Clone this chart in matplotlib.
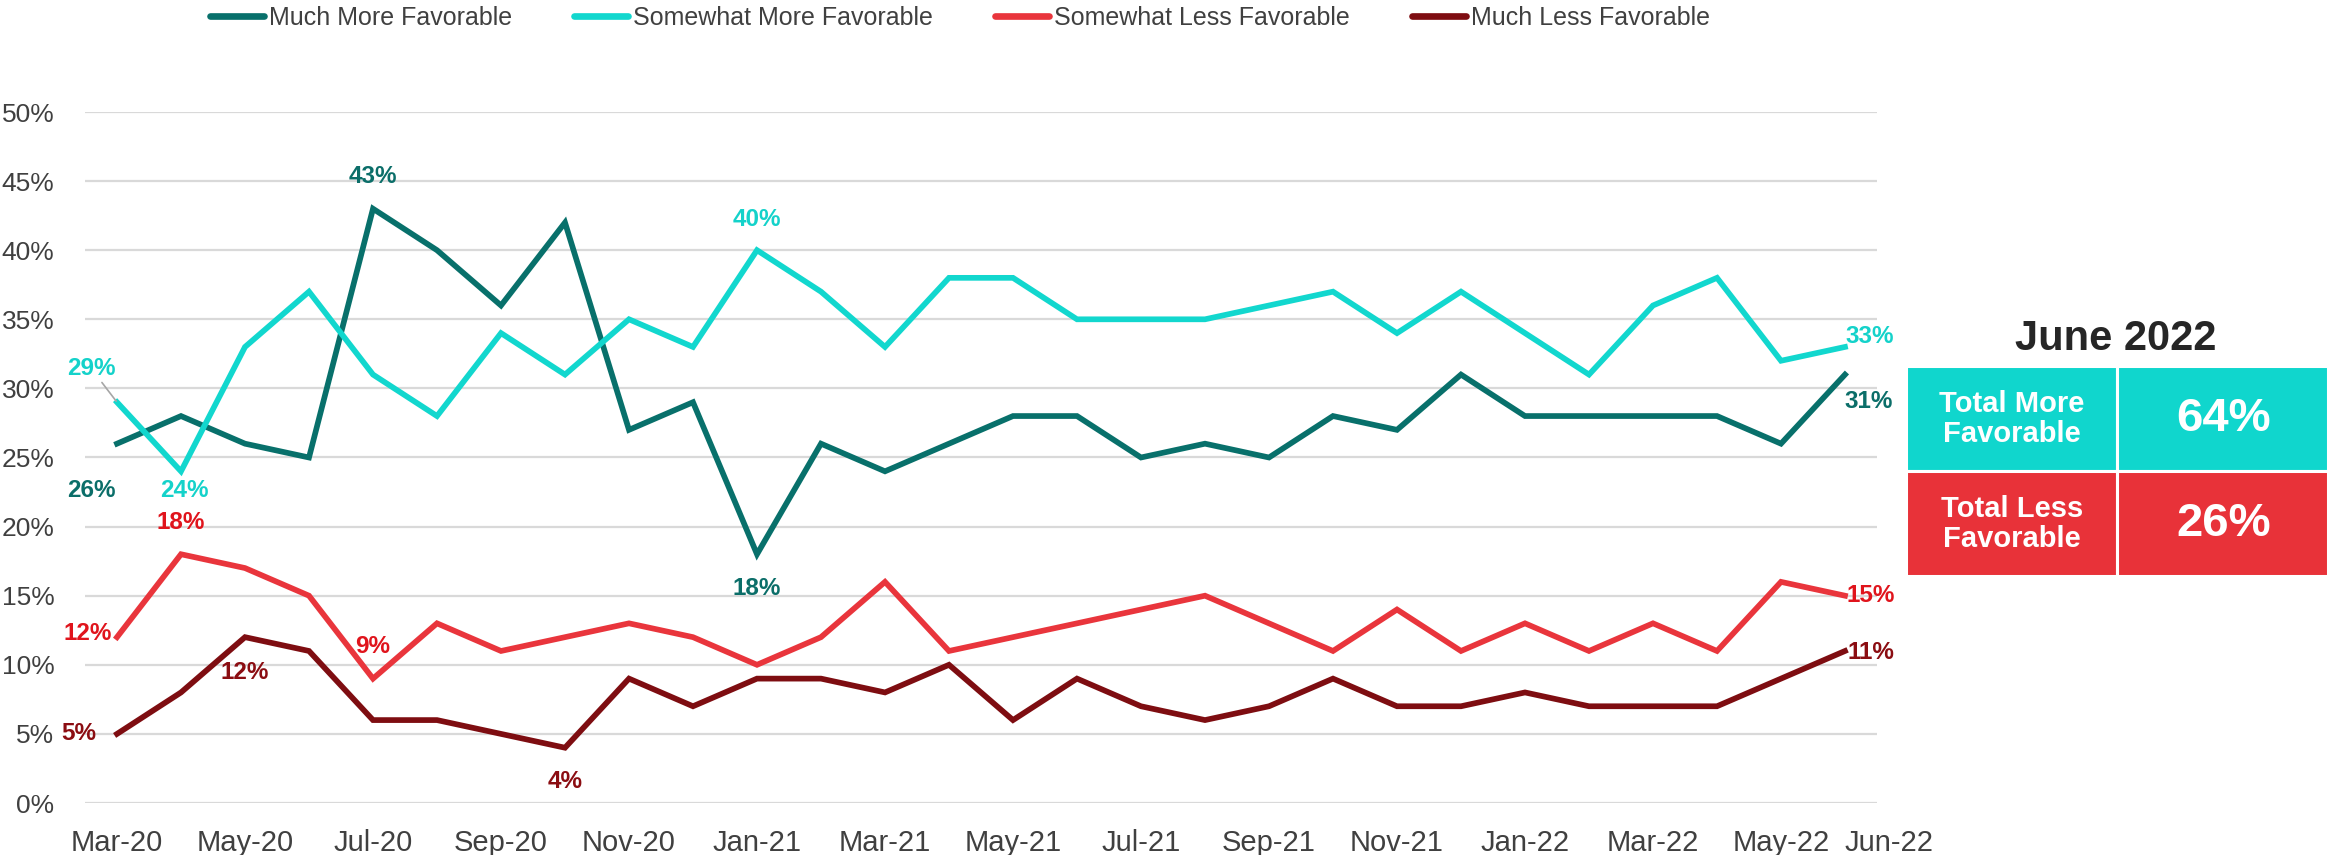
import numpy as np
import matplotlib
matplotlib.use('Agg')
import matplotlib.pyplot as plt
from matplotlib.patches import Rectangle

# datos (porcentajes, mensual de Mar-20 a Jun-22)
meses = ['Mar-20', 'Apr-20', 'May-20', 'Jun-20', 'Jul-20', 'Aug-20', 'Sep-20',
         'Oct-20', 'Nov-20', 'Dec-20', 'Jan-21', 'Feb-21', 'Mar-21', 'Apr-21',
         'May-21', 'Jun-21', 'Jul-21', 'Aug-21', 'Sep-21', 'Oct-21', 'Nov-21',
         'Dec-21', 'Jan-22', 'Feb-22', 'Mar-22', 'Apr-22', 'May-22', 'Jun-22']

much_more = [26, 28, 26, 25, 43, 40, 36, 42, 27, 29, 18, 26, 24, 26, 28, 28,
             25, 26, 25, 28, 27, 31, 28, 28, 28, 28, 26, 31]
somewhat_more = [29, 24, 33, 37, 31, 28, 34, 31, 35, 33, 40, 37, 33, 38, 38, 35,
                 35, 35, 36, 37, 34, 37, 34, 31, 36, 38, 32, 33]
somewhat_less = [12, 18, 17, 15, 9, 13, 11, 12, 13, 12, 10, 12, 16, 11, 12, 13,
                 14, 15, 13, 11, 14, 11, 13, 11, 13, 11, 16, 15]
much_less = [5, 8, 12, 11, 6, 6, 5, 4, 9, 7, 9, 9, 8, 10, 6, 9, 7, 6, 7, 9, 7,
             7, 8, 7, 7, 7, 9, 11]

series_names = ['Much More Favorable', 'Somewhat More Favorable',
                'Somewhat Less Favorable', 'Much Less Favorable']

tick_labels = ['Mar-20', 'May-20', 'Jul-20', 'Sep-20', 'Nov-20', 'Jan-21',
               'Mar-21', 'May-21', 'Jul-21', 'Sep-21', 'Nov-21', 'Jan-22',
               'Mar-22', 'May-22', 'Jun-22']

panel_title = 'June 2022'
panel_rows = ['Total More\nFavorable', 'Total Less\nFavorable']
panel_values = [64, 26]

plt.rcParams['font.family'] = ['Liberation Sans', 'DejaVu Sans']

c_mm = '#08706B'
c_sm = '#12D7CE'
c_sl = '#E9353C'
c_ml = '#7E0D11'
colores = [c_mm, c_sm, c_sl, c_ml]
col_etiq = ['#0B6E69', '#14D2CA', '#E0141C', '#8B0D12']
gris = '#404040'

x = np.arange(len(meses))

fig = plt.figure(figsize=(23.28, 8.55), dpi=100)
ax = fig.add_axes([85 / 2328, 1 - 803 / 855, (1877 - 85) / 2328, (803 - 112) / 855])

datos = [much_more, somewhat_more, somewhat_less, much_less]
lineas = []
for d, c, n in zip(datos, colores, series_names):
    l, = ax.plot(x, np.array(d) / 100, color=c, lw=4.1, label=n,
                 solid_joinstyle='miter', zorder=3)
    lineas.append(l)

ax.set_xlim(-0.5, 27.5)
ax.set_ylim(0, 0.5)
ax.set_yticks(np.arange(0, 0.51, 0.05))
ax.set_yticklabels(['%d%%' % v for v in range(0, 51, 5)], fontsize=19, color=gris)
ax.yaxis.grid(True, color='#D9D9D9', lw=1.6, zorder=0)
ax.set_axisbelow(True)
pos_ticks = [meses.index(t) for t in tick_labels]
ax.set_xticks(pos_ticks)
ax.set_xticklabels(tick_labels, fontsize=21, color=gris)
ax.tick_params(axis='x', length=0, pad=19)
ax.tick_params(axis='y', length=0, pad=22)
ult = ax.get_xticklabels()[-1]
ult.set_horizontalalignment('left')
for s in ax.spines.values():
    s.set_visible(False)

# etiquetas de datos: (indice, dx, dy) en pixeles
etiquetas = [
    [(0, -26, -47), (4, 0, 32), (10, 0, -34), (27, 24, -27)],
    [(1, 3, -19), (10, 0, 31), (27, 25, 10)],
    [(0, -29, 4), (1, 0, 32), (4, 0, 32), (27, 26, 0)],
    [(0, -38, 0), (2, 0, -35), (7, 0, -34), (27, 26, -2)],
]
for d, ce, et in zip(datos, col_etiq, etiquetas):
    for i, dx, dy in et:
        ax.annotate('%d%%' % d[i], (i, d[i] / 100), xytext=(dx, dy),
                    textcoords='offset pixels', ha='center', va='center',
                    fontsize=17.5, fontweight='bold', color=ce, zorder=5)

# 29% con linea guia
ax.annotate('%d%%' % somewhat_more[0], (0, somewhat_more[0] / 100),
            xytext=(-26, 34), textcoords='offset pixels', ha='center',
            va='center', fontsize=17.5, fontweight='bold', color=col_etiq[1],
            arrowprops=dict(arrowstyle='-', color='#A6A6A6', lw=1.2,
                            shrinkA=0, shrinkB=1))

# leyenda
leg = fig.legend(handles=lineas, loc='center', bbox_to_anchor=(960 / 2328, 1 - 18 / 855),
                 ncol=4, frameon=False, fontsize=18, handlelength=2.16,
                 handletextpad=0.2, columnspacing=2.48)
for h in leg.get_lines():
    h.set_linewidth(4.8)
    h.set_solid_capstyle('round')
for t in leg.get_texts():
    t.set_color(gris)

# panel derecho
fig.text(2116 / 2328, 1 - 339 / 855, panel_title, ha='center', va='center',
         fontsize=30, fontweight='bold', color='#262626')
pax = fig.add_axes([1906 / 2328, 1 - 576 / 855, (2328 - 1906) / 2328, (576 - 366) / 855])
pax.set_xlim(0, 422)
pax.set_ylim(0, 210)
pax.axis('off')
fondos = ['#10D6CD', '#E83239']
for k, (r, v, fc) in enumerate(zip(panel_rows, panel_values, fondos)):
    y0 = 105 * (1 - k)
    pax.add_patch(Rectangle((0, y0), 211, 105, facecolor=fc, edgecolor='white', lw=2.2))
    pax.add_patch(Rectangle((211, y0), 211, 105, facecolor=fc, edgecolor='white', lw=2.2))
    pax.text(106, y0 + 52, r, ha='center', va='center', color='white',
             fontsize=21, fontweight='bold', linespacing=1.05)
    pax.text(318, y0 + 52, '%d%%' % v, ha='center', va='center', color='white',
             fontsize=34, fontweight='bold')

fig.savefig('out.png', dpi=100)
